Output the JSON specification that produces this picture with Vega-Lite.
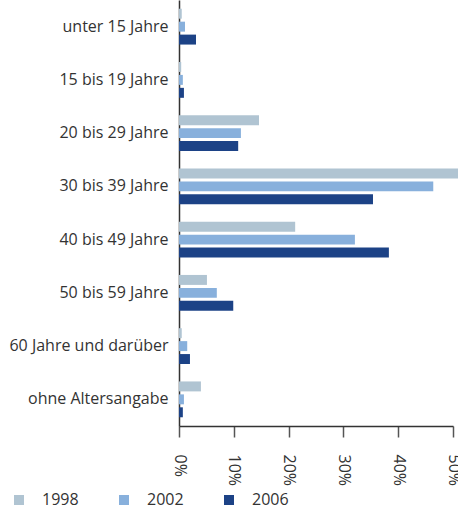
{
  "$schema": "https://vega.github.io/schema/vega-lite/v6.json",
  "width": 274,
  "height": 426,
  "autosize": {"type": "none"},
  "padding": {"left": 179, "top": 0, "right": 5, "bottom": 82},
  "background": "white",
  "config": {
    "view": {"stroke": null},
    "font": "Open Sans",
    "axis": {"labelFont": "Open Sans", "labelColor": "#333333", "labelFontSize": 16, "grid": false},
    "legend": {"labelFont": "Open Sans", "labelColor": "#333333", "labelFontSize": 16}
  },
  "data": {
    "values": [
      {"Alter": "unter 15 Jahre", "Jahr": "1998", "Anteil": 0.5},
      {"Alter": "unter 15 Jahre", "Jahr": "2002", "Anteil": 1.1},
      {"Alter": "unter 15 Jahre", "Jahr": "2006", "Anteil": 3.1},
      {"Alter": "15 bis 19 Jahre", "Jahr": "1998", "Anteil": 0.4},
      {"Alter": "15 bis 19 Jahre", "Jahr": "2002", "Anteil": 0.7},
      {"Alter": "15 bis 19 Jahre", "Jahr": "2006", "Anteil": 0.9},
      {"Alter": "20 bis 29 Jahre", "Jahr": "1998", "Anteil": 14.6},
      {"Alter": "20 bis 29 Jahre", "Jahr": "2002", "Anteil": 11.3},
      {"Alter": "20 bis 29 Jahre", "Jahr": "2006", "Anteil": 10.8},
      {"Alter": "30 bis 39 Jahre", "Jahr": "1998", "Anteil": 51.5},
      {"Alter": "30 bis 39 Jahre", "Jahr": "2002", "Anteil": 46.4},
      {"Alter": "30 bis 39 Jahre", "Jahr": "2006", "Anteil": 35.4},
      {"Alter": "40 bis 49 Jahre", "Jahr": "1998", "Anteil": 21.2},
      {"Alter": "40 bis 49 Jahre", "Jahr": "2002", "Anteil": 32.1},
      {"Alter": "40 bis 49 Jahre", "Jahr": "2006", "Anteil": 38.3},
      {"Alter": "50 bis 59 Jahre", "Jahr": "1998", "Anteil": 5.1},
      {"Alter": "50 bis 59 Jahre", "Jahr": "2002", "Anteil": 6.9},
      {"Alter": "50 bis 59 Jahre", "Jahr": "2006", "Anteil": 9.9},
      {"Alter": "60 Jahre und darüber", "Jahr": "1998", "Anteil": 0.5},
      {"Alter": "60 Jahre und darüber", "Jahr": "2002", "Anteil": 1.5},
      {"Alter": "60 Jahre und darüber", "Jahr": "2006", "Anteil": 2.0},
      {"Alter": "ohne Altersangabe", "Jahr": "1998", "Anteil": 4.0},
      {"Alter": "ohne Altersangabe", "Jahr": "2002", "Anteil": 0.9},
      {"Alter": "ohne Altersangabe", "Jahr": "2006", "Anteil": 0.7}
    ]
  },
  "mark": {"type": "bar", "clip": false},
  "encoding": {
    "y": {
      "field": "Alter", "type": "nominal", "sort": null,
      "scale": {"paddingInner": 0.327, "paddingOuter": 0.164},
      "axis": {"title": null, "ticks": false, "domain": true, "domainColor": "#333333", "domainWidth": 1.5, "labelPadding": 11}
    },
    "yOffset": {
      "field": "Jahr", "type": "nominal",
      "scale": {"paddingInner": 0.23, "paddingOuter": 0}
    },
    "x": {
      "field": "Anteil", "type": "quantitative",
      "scale": {"domain": [0, 50], "nice": false, "clamp": false},
      "axis": {
        "title": null, "values": [0, 10, 20, 30, 40, 50],
        "labelExpr": "datum.value + '%'",
        "labelAngle": 90, "labelAlign": "left", "labelBaseline": "middle",
        "labelPadding": 17, "labelFontSize": 16,
        "tickSize": 11, "tickColor": "#555555", "tickWidth": 1.5,
        "domainColor": "#333333", "domainWidth": 1.5
      }
    },
    "color": {
      "field": "Jahr", "type": "nominal",
      "scale": {"domain": ["1998", "2002", "2006"], "range": ["#b0c4d2", "#88b0dc", "#1c4286"]},
      "legend": {
        "title": null, "orient": "none", "direction": "horizontal",
        "legendX": -168, "legendY": 492,
        "symbolType": "square", "symbolSize": 100, "symbolStrokeWidth": 0,
        "labelOffset": 15, "columnPadding": 37
      }
    }
  }
}
